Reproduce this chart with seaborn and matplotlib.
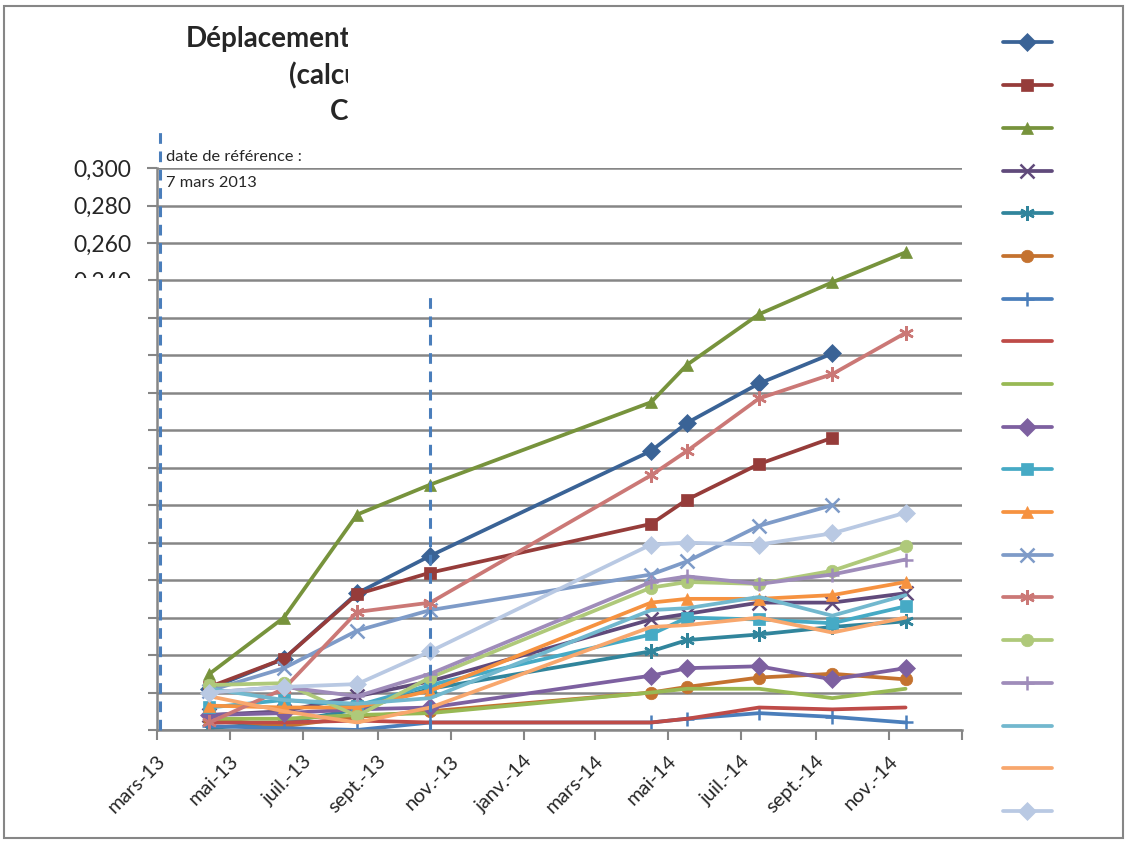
import matplotlib
matplotlib.use("Agg")
import matplotlib.pyplot as plt
from matplotlib.patches import Rectangle
import seaborn as sns
import pandas as pd
import numpy as np

# === Data ===
dates = ["2013-04-14", "2013-06-15", "2013-08-15", "2013-10-15", "2014-04-17",
         "2014-05-17", "2014-07-16", "2014-09-15", "2014-11-15"]

s01 = [0.022, 0.038, 0.073, 0.093, 0.149, 0.164, 0.185, 0.201, None]
s02 = [0.023, 0.038, 0.0725, 0.084, 0.110, 0.123, 0.142, 0.156, None]
s03 = [0.030, 0.060, 0.115, 0.131, 0.175, 0.195, 0.222, 0.239, 0.255]
s04 = [0.008, 0.010, 0.018, 0.026, 0.059, 0.062, 0.068, 0.068, 0.073]
s05 = [0.001, 0.004, 0.011, 0.022, 0.042, 0.048, 0.051, 0.055, 0.058]
s06 = [0.006, 0.002, 0.007, 0.010, 0.020, 0.023, 0.028, 0.030, 0.027]
s07 = [0.002, 0.001, 0.000, 0.004, 0.004, 0.006, 0.009, 0.007, 0.004]
s08 = [0.004, 0.004, 0.005, 0.004, 0.004, 0.006, 0.012, 0.011, 0.012]
s09 = [0.006, 0.006, 0.008, 0.009, 0.020, 0.022, 0.022, 0.017, 0.022]
s10 = [0.008, 0.009, 0.011, 0.012, 0.029, 0.033, 0.034, 0.027, 0.033]
s11 = [0.012, 0.016, 0.013, 0.024, 0.051, 0.060, 0.059, 0.057, 0.066]
s12 = [0.013, 0.012, 0.012, 0.021, 0.068, 0.070, 0.070, 0.072, 0.079]
s13 = [0.021, 0.033, 0.053, 0.064, 0.083, 0.090, 0.109, 0.120, None]
s14 = [0.004, 0.022, 0.063, 0.068, 0.136, 0.149, 0.177, 0.190, 0.212]
s15 = [0.024, 0.025, 0.0075, 0.028, 0.076, 0.079, 0.078, 0.085, 0.098]
s16 = [0.020, 0.023, 0.018, 0.030, 0.079, 0.082, 0.078, 0.083, 0.091]
s17 = [0.022, 0.016, 0.014, 0.017, 0.064, 0.065, 0.071, 0.061, 0.072]
s18 = [0.018, 0.010, 0.004, 0.012, 0.055, 0.056, 0.060, 0.052, 0.060]
s19 = [0.020, 0.023, 0.0245, 0.042, 0.099, 0.100, 0.099, 0.105, 0.116]

series = [s01, s02, s03, s04, s05, s06, s07, s08, s09, s10,
          s11, s12, s13, s14, s15, s16, s17, s18, s19]

colors = ["#3A6396", "#963C3A", "#77933C", "#604A7B", "#31859C", "#C4722F",
          "#4A7EBB", "#BE4B48", "#98B954", "#7D60A0", "#46AAC5", "#F69240",
          "#7E9BC8", "#CB7876", "#AFC97A", "#9F8CBA", "#72B8CE", "#F8A76D",
          "#B9C9E3"]
asterisk = (6, 2, 0)
markers = ["D", "s", "^", "x", asterisk, "o", "+", None, None,
           "D", "s", "^", "x", asterisk, "o", "+", None, None, "D"]

tick_dates = ["2013-03-01", "2013-05-01", "2013-07-01", "2013-09-01", "2013-11-01",
              "2014-01-01", "2014-03-01", "2014-05-01", "2014-07-01", "2014-09-01",
              "2014-11-01", "2015-01-01"]
tick_labels = ["mars-13", "mai-13", "juil.-13", "sept.-13", "nov.-13", "janv.-14",
               "mars-14", "mai-14", "juil.-14", "sept.-14", "nov.-14", ""]

y_ticks = [0.000, 0.020, 0.040, 0.060, 0.080, 0.100, 0.120, 0.140, 0.160,
           0.180, 0.200, 0.220, 0.240, 0.260, 0.280, 0.300]
y_labels_shown = {0.240: "0,240", 0.260: "0,260", 0.280: "0,280", 0.300: "0,300"}

ref_line_date = "2013-03-04"
second_line_date = "2013-10-15"

# === Style ===
sns.set_theme(style="white")
plt.rcParams["font.family"] = ["Lato", "DejaVu Sans"]

fig = plt.figure(figsize=(11.28, 8.44), dpi=100)
ax = fig.add_axes([0.1389, 0.1351, 0.8528 - 0.1389, 0.8009 - 0.1351])

x = pd.to_datetime(dates)
for vals, col, mk in zip(series, colors, markers):
    y = np.array([np.nan if v is None else v for v in vals], dtype=float)
    kw = dict(marker=mk, markersize=10.5 if mk in ("x", "+", asterisk) else 9,
              markeredgewidth=1.8 if mk in ("x", "+", asterisk) else 0.5,
              markeredgecolor=col) if mk is not None else {}
    sns.lineplot(x=x, y=y, color=col, linewidth=2.7, ax=ax, **kw)

# === Axes ===
ax.set_xlim(pd.Timestamp("2013-03-01"), pd.Timestamp("2015-01-01"))
ax.set_ylim(0, 0.300)
ax.set_xticks(pd.to_datetime(tick_dates))
ax.set_xticklabels(tick_labels, rotation=45, ha="right", rotation_mode="anchor", fontsize=14.5)
ax.set_yticks(y_ticks)
ax.set_yticklabels([y_labels_shown.get(round(t, 3), "") for t in y_ticks], fontsize=16.5)
ax.tick_params(axis="both", which="major", length=7, width=1.5, color="#868686",
               direction="out", bottom=True, left=True)
ax.tick_params(axis="y", pad=11)
ax.tick_params(axis="x", pad=9)
ax.yaxis.grid(True, color="#868686", linewidth=1.8)
ax.xaxis.grid(False)
for side in ["top", "right"]:
    ax.spines[side].set_visible(False)
for side in ["left", "bottom"]:
    ax.spines[side].set_color("#868686")
    ax.spines[side].set_linewidth(1.8)
ax.set_xlabel("")
ax.set_ylabel("")
ax.set_facecolor("white")

# reference dashed lines
ax.plot([pd.Timestamp(ref_line_date)] * 2, [0, 0.320], color="#4A7EBB", linestyle=(0, (3.5, 2.5)),
        linewidth=2.2, clip_on=False, zorder=5)
ax.plot([pd.Timestamp(second_line_date)] * 2, [0, 0.2347], color="#4A7EBB", linestyle=(0, (3.5, 2.5)),
        linewidth=2.2, zorder=5)

ax.text(pd.Timestamp("2013-03-09"), 0.306, "date de référence :", fontsize=11.8, va="center", ha="left")
ax.text(pd.Timestamp("2013-03-09"), 0.292, "7 mars 2013", fontsize=11.8, va="center", ha="left")

# white patch hiding the lower y labels, as in the reference
fig.patches.append(Rectangle((40 / 1128, 1 - 740 / 844), (148 - 40) / 1128, (740 - 278) / 844,
                             transform=fig.transFigure, facecolor="white", edgecolor="none", zorder=10))

# === Title (clipped on the right as in the reference) ===
tax = fig.add_axes([150 / 1128, 1 - 130 / 844, (348 - 150) / 1128, (130 - 15) / 844])
tax.axis("off")
tax.set_xlim(150, 348)
tax.set_ylim(130, 15)
tax.text(186, 39, "Déplacement", fontsize=20, fontweight="bold", va="center", ha="left", clip_on=True)
tax.text(289, 76, "(calcu", fontsize=20, fontweight="bold", va="center", ha="left", clip_on=True)
tax.text(330, 112, "Co", fontsize=20, fontweight="bold", va="center", ha="left", clip_on=True)

# === Legend (no labels) ===
handles = ax.get_lines()[:len(series)]
leg = fig.legend(handles, [""] * len(series), loc="upper left",
                 bbox_to_anchor=(996 / 1128, 1 - 30 / 844), frameon=False,
                 fontsize=10, handlelength=3.5, handleheight=1.0, labelspacing=2.14,
                 handletextpad=0.2, borderpad=0.0)

# outer border
fig.patches.append(Rectangle((4 / 1128, 1 - 838 / 844), (1123 - 4) / 1128, (838 - 6) / 844,
                             transform=fig.transFigure, facecolor="none", edgecolor="#868686",
                             linewidth=1.5, zorder=11))

plt.savefig("out.png", dpi=100)
plt.close()
